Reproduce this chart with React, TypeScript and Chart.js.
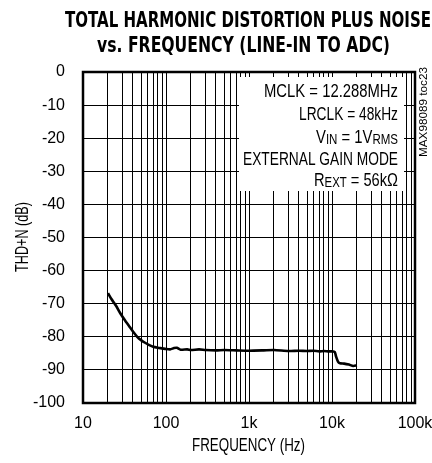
import { useEffect, useRef } from "react";
import { Chart, registerables } from "chart.js";

Chart.register(...registerables);

// ---- Data ----
const frequencyHz = [
  20, 22, 25, 28, 32, 36, 40, 45, 50, 56, 63, 70, 80, 90, 100, 112, 125, 135, 150,
  180, 200, 250, 300, 400, 500, 700, 1000, 1500, 2000, 3000, 4000, 5000, 6000, 7000,
  8000, 9000, 10000, 10800, 11200, 11800, 12500, 14000, 16000, 18000, 20000,
];
const thdnDb = [
  -66.8, -68.6, -70.6, -72.8, -75.0, -76.8, -78.4, -80.0, -81.0, -81.8, -82.5, -83.0,
  -83.3, -83.5, -83.7, -83.8, -83.4, -83.3, -83.9, -83.8, -84.0, -83.8, -84.0, -84.1,
  -84.0, -84.1, -84.2, -84.1, -84.0, -84.3, -84.2, -84.3, -84.2, -84.4, -84.3, -84.4,
  -84.4, -84.6, -86.0, -87.5, -88.0, -88.1, -88.4, -88.8, -88.6,
];
const xDecades = [10, 100, 1000, 10000, 100000];
const xDecadeLabels = ["10", "100", "1k", "10k", "100k"];
const minorMultipliers = [1, 2, 3, 4, 5, 6, 7, 8, 9];
const yMin = -100;
const yMax = 0;
const yStep = 10;

const titleLines = ["TOTAL HARMONIC DISTORTION PLUS NOISE", "vs. FREQUENCY (LINE-IN TO ADC)"];
const xAxisTitle = "FREQUENCY (Hz)";
const yAxisTitle = "THD+N (dB)";
const tocLabel = "MAX98089 toc23";
// each line: list of [text, isSubscript]
const annotationLines: [string, boolean][][] = [
  [["MCLK = 12.288MHz", false]],
  [["LRCLK = 48kHz", false]],
  [["V", false], ["IN", true], [" = 1V", false], ["RMS", true]],
  [["EXTERNAL GAIN MODE", false]],
  [["R", false], ["EXT", true], [" = 56k", false], ["Ω", false]],
];

const TITLE_FAMILY = '"DejaVu Sans Condensed", "DejaVu Sans", sans-serif';
const TEXT_FAMILY = '"Liberation Sans", Arial, sans-serif';

function fitText(
  ctx: CanvasRenderingContext2D,
  text: string,
  x: number,
  y: number,
  width: number,
  align: "left" | "center" | "right"
) {
  const w = ctx.measureText(text).width;
  const sx = width / w;
  ctx.save();
  let left = x;
  if (align === "center") left = x - width / 2;
  if (align === "right") left = x - width;
  ctx.translate(left, y);
  ctx.scale(sx, 1);
  ctx.textAlign = "left";
  ctx.fillText(text, 0, 0);
  ctx.restore();
}

const decorPlugin = {
  id: "decor",
  afterDraw(chart: any) {
    const ctx: CanvasRenderingContext2D = chart.ctx;
    const { left, right, top, bottom } = chart.chartArea;
    ctx.save();
    ctx.fillStyle = "#000";
    ctx.textBaseline = "alphabetic";

    // annotation box
    const bx0 = 239;
    const bx1 = 404;
    const by0 = 77;
    const by1 = 191;
    ctx.fillStyle = "#fff";
    ctx.fillRect(bx0, by0, bx1 - bx0, by1 - by0);
    ctx.fillStyle = "#000";

    // annotation text, each line fitted to its width in the reference
    const mainSize = 18;
    const subSize = 14;
    const lineWidths = [134, 99, 82, 155, 84];
    const baselines = [97, 120, 143, 165, 186];
    const textRight = 398;
    annotationLines.forEach((segs, i) => {
      let raw = 0;
      const widths = segs.map(([t, sub]) => {
        ctx.font = `${sub ? subSize : mainSize}px ${TEXT_FAMILY}`;
        const w = ctx.measureText(t).width;
        raw += w;
        return w;
      });
      const sx = lineWidths[i] / raw;
      let cx = textRight - lineWidths[i];
      segs.forEach(([t, sub], j) => {
        ctx.font = `${sub ? subSize : mainSize}px ${TEXT_FAMILY}`;
        ctx.save();
        ctx.translate(cx, baselines[i] + (sub ? 1 : 0));
        ctx.scale(sx, 1);
        ctx.fillText(t, 0, 0);
        ctx.restore();
        cx += widths[j] * sx;
      });
    });

    // frame
    ctx.strokeStyle = "#000";
    ctx.lineWidth = 2.5;
    ctx.strokeRect(left, top, right - left, bottom - top);

    // title
    ctx.font = `bold 22px ${TITLE_FAMILY}`;
    fitText(ctx, titleLines[0], 65, 26.7, 366, "left");
    fitText(ctx, titleLines[1], 243.5, 51.7, 293, "center");

    // axis titles
    ctx.font = `18px ${TEXT_FAMILY}`;
    fitText(ctx, xAxisTitle, 248.5, 450.5, 113, "center");
    ctx.save();
    ctx.translate(28, 237);
    ctx.rotate(-Math.PI / 2);
    fitText(ctx, yAxisTitle, 0, 0, 70, "center");
    ctx.restore();

    // toc label
    ctx.font = `11px ${TEXT_FAMILY}`;
    ctx.save();
    ctx.translate(427, 112);
    ctx.rotate(-Math.PI / 2);
    fitText(ctx, tocLabel, 0, 0, 90, "center");
    ctx.restore();

    ctx.restore();
  },
};

export default function App() {
  const ref = useRef<HTMLCanvasElement | null>(null);
  useEffect(() => {
    if (!ref.current) return;
    const gridTicks: number[] = [];
    xDecades.forEach((d, i) => {
      if (i === xDecades.length - 1) {
        gridTicks.push(d);
      } else {
        minorMultipliers.forEach((m) => gridTicks.push(d * m));
      }
    });
    const labelFor = (v: number) => {
      const i = xDecades.indexOf(v);
      return i >= 0 ? xDecadeLabels[i] : "";
    };
    const chart = new Chart(ref.current, {
      type: "line",
      data: {
        datasets: [
          {
            data: frequencyHz.map((f, i) => ({ x: f, y: thdnDb[i] })),
            borderColor: "#000",
            borderWidth: 2.6,
            pointRadius: 0,
            tension: 0.2,
            fill: false,
          },
        ],
      },
      plugins: [decorPlugin],
      options: {
        animation: false,
        responsive: false,
        devicePixelRatio: 1,
        layout: { padding: { top: 72, right: 17, left: 0, bottom: 0 } },
        plugins: {
          legend: { display: false },
          title: { display: false },
          tooltip: { enabled: false },
        },
        scales: {
          x: {
            type: "logarithmic",
            min: 10,
            max: 100000,
            afterBuildTicks: (s: any) => {
              s.ticks = gridTicks.map((v) => ({ value: v, major: xDecades.includes(v) }));
            },
            afterFit: (s: any) => {
              s.height = 60;
              s.paddingLeft = 0;
              s.paddingRight = 0;
            },
            grid: { color: "#000", lineWidth: 1, drawTicks: false },
            border: { display: false },
            ticks: {
              autoSkip: false,
              maxRotation: 0,
              minRotation: 0,
              padding: 11,
              color: "#000",
              font: { family: TEXT_FAMILY, size: 16 },
              callback: (v: any) => labelFor(Number(v)),
            },
          },
          y: {
            type: "linear",
            min: yMin,
            max: yMax,
            afterFit: (s: any) => {
              s.width = 83;
              s.paddingTop = 0;
              s.paddingBottom = 0;
            },
            grid: { color: "#000", lineWidth: 1, drawTicks: false },
            border: { display: false },
            ticks: {
              stepSize: yStep,
              padding: 18,
              color: "#000",
              font: { family: TEXT_FAMILY, size: 16 },
            },
          },
        },
      },
    });
    return () => chart.destroy();
  }, []);
  return (
    <div style={{ position: "fixed", left: 0, top: 0, width: 432, height: 463, background: "#fff" }}>
      <canvas ref={ref} width={432} height={463} style={{ width: 432, height: 463 }} />
    </div>
  );
}
